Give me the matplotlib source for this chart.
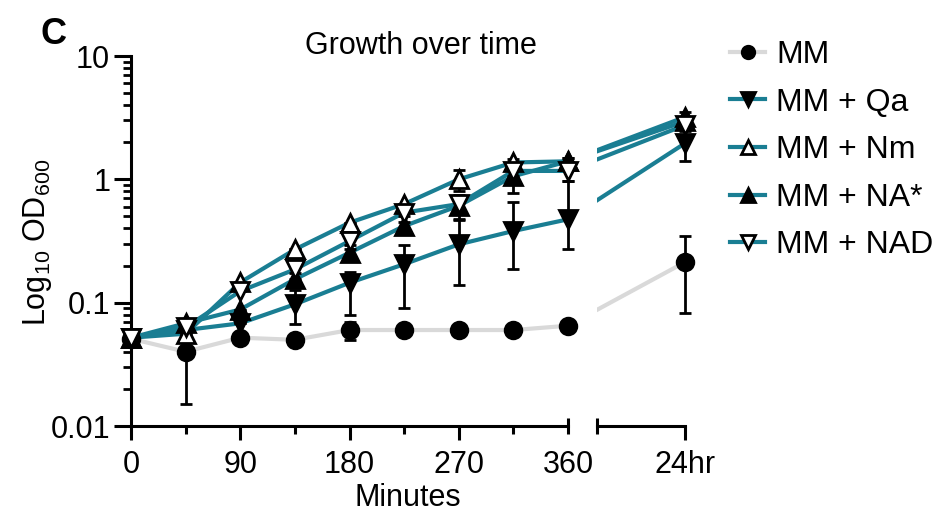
import matplotlib.pyplot as plt
from matplotlib.lines import Line2D
from matplotlib.ticker import LogLocator, NullFormatter

plt.rcParams['font.family'] = ['Liberation Sans', 'DejaVu Sans']
plt.rcParams['mathtext.default'] = 'regular'

# time points (minutes) and the plotting position used for the 24 hr sample
minutes = [0, 45, 90, 135, 180, 225, 270, 315, 360]
pos_24hr = 456
x_all = minutes + [pos_24hr]
major_ticks = [0, 90, 180, 270, 360]
minor_ticks = [45, 135, 225, 315]

# OD600 means (last value = 24 hr) and lower / upper error bar lengths
mm = [0.051, 0.040, 0.052, 0.050, 0.060, 0.060, 0.060, 0.060, 0.065, 0.213]
mm_lo = [0, 0.025, 0, 0, 0.010, 0, 0, 0, 0, 0.130]
mm_hi = [0, 0.025, 0, 0, 0.010, 0, 0, 0, 0, 0.134]

qa = [0.052, 0.060, 0.068, 0.097, 0.145, 0.205, 0.297, 0.381, 0.474, 1.96]
qa_lo = [0, 0, 0, 0.030, 0.065, 0.114, 0.158, 0.195, 0.204, 0.55]
qa_hi = [0, 0, 0, 0.030, 0.032, 0.088, 0.177, 0.274, 0.500, 0.50]

nm = [0.052, 0.056, 0.146, 0.270, 0.445, 0.630, 1.00, 1.37, 1.40, 3.20]
nm_lo = [0, 0, 0, 0, 0, 0, 0.20, 0.10, 0.10, 0.30]
nm_hi = [0, 0, 0, 0, 0, 0, 0.20, 0.10, 0.10, 0.30]

na = [0.052, 0.068, 0.088, 0.155, 0.254, 0.418, 0.610, 1.06, 1.40, 2.95]
na_lo = [0, 0, 0, 0.020, 0.020, 0.030, 0.140, 0.28, 0.10, 0.20]
na_hi = [0, 0, 0, 0.020, 0.020, 0.030, 0.140, 0.28, 0.10, 0.20]

nad = [0.052, 0.063, 0.124, 0.186, 0.316, 0.537, 0.630, 1.17, 1.17, 2.75]
nad_lo = [0, 0, 0, 0.030, 0.020, 0.030, 0.050, 0.10, 0.20, 0.20]
nad_hi = [0, 0, 0, 0.030, 0.020, 0.030, 0.050, 0.10, 0.20, 0.20]

labels = ['MM', 'MM + Qa', 'MM + Nm', 'MM + NA*', 'MM + NAD']

teal = '#1a7e93'
grey = '#d9d9d9'
series = [
    (mm, mm_lo, mm_hi, grey, 'o', 'black', 12),
    (qa, qa_lo, qa_hi, teal, 'v', 'black', 13),
    (nm, nm_lo, nm_hi, teal, '^', 'white', 13),
    (na, na_lo, na_hi, teal, '^', 'black', 13),
    (nad, nad_lo, nad_hi, teal, 'v', 'white', 13),
]

W, H = 932, 518


def rect(x0, y0, x1, y1):
    return [x0 / W, 1 - y1 / H, (x1 - x0) / W, (y1 - y0) / H]


fig = plt.figure(figsize=(W / 100, H / 100), dpi=100)
ax = fig.add_axes(rect(131, 56, 568, 426))
ax2 = fig.add_axes(rect(597, 56, 685, 426))

for a in (ax, ax2):
    a.set_yscale('log')
    a.set_ylim(0.01, 10)
    for s in ('top', 'right'):
        a.spines[s].set_visible(False)
    a.spines['bottom'].set_linewidth(2.2)
    a.spines['left'].set_linewidth(2.2)
    a.patch.set_alpha(0)

ax.set_xlim(0, 360)
ax2.set_xlim(384, pos_24hr)

for ys, lo, hi, lc, m, fc, ms in series:
    ax.plot(x_all, ys, color=lc, lw=3, zorder=2)
    ax2.plot(x_all, ys, color=lc, lw=3, zorder=2)
    ax.errorbar(minutes, ys[:-1], yerr=[lo[:-1], hi[:-1]], fmt='none', ecolor='black',
                elinewidth=2, capsize=4, capthick=2, clip_on=False, zorder=3)
    ax2.errorbar([pos_24hr], ys[-1:], yerr=[lo[-1:], hi[-1:]], fmt='none', ecolor='black',
                 elinewidth=2, capsize=4, capthick=2, clip_on=False, zorder=3)
    ax.plot(minutes, ys[:-1], ls='none', marker=m, ms=ms, mfc=fc, mec='black', mew=2,
            clip_on=False, zorder=4)
    ax2.plot([pos_24hr], ys[-1:], ls='none', marker=m, ms=ms, mfc=fc, mec='black', mew=2,
             clip_on=False, zorder=4)

# y axis
ax.set_yticks([0.01, 0.1, 1, 10])
ax.set_yticklabels(['0.01', '0.1', '1', '10'])
ax.yaxis.set_minor_locator(LogLocator(base=10, subs=range(2, 10)))
ax.yaxis.set_minor_formatter(NullFormatter())
ax.tick_params(axis='y', which='major', length=12, width=2.2, labelsize=22, pad=3)
ax.tick_params(axis='y', which='minor', length=6, width=2)

# x axis
ax.set_xticks(major_ticks)
ax.set_xticks(minor_ticks, minor=True)
ax.set_xticklabels([str(t) for t in major_ticks])
ax.tick_params(axis='x', which='major', length=10, width=2.2, labelsize=22, pad=7)
ax.tick_params(axis='x', which='minor', length=5.5, width=2.2)
ax.xaxis.get_major_ticks()[-1].tick1line.set_visible(False)

ax2.spines['left'].set_visible(False)
ax2.tick_params(axis='y', which='both', left=False, labelleft=False)
ax2.set_xticks([pos_24hr])
ax2.set_xticklabels(['24hr'])
ax2.tick_params(axis='x', which='major', length=10, width=2.2, labelsize=22, pad=7)
ax2.tick_params(axis='x', which='minor', length=0)

# break caps
ax.plot([360], [0.01], marker='|', ms=12, mew=2.2, color='black', clip_on=False, zorder=5)
ax2.plot([384], [0.01], marker='|', ms=12, mew=2.2, color='black', clip_on=False, zorder=5)

fig.text(421 / W, 1 - 46 / H, 'Growth over time', fontsize=22, ha='center', va='center')
fig.text(408 / W, 1 - 498 / H, 'Minutes', fontsize=22, ha='center', va='center')
fig.text(37 / W, 1 - 242 / H, 'Log$_{10}$ OD$_{600}$', fontsize=22, rotation=90,
         ha='center', va='center')
fig.text(40 / W, 1 - 35 / H, 'C', fontsize=26, fontweight='bold', ha='left', va='center')

handles = [Line2D([], [], color=lc, lw=3, marker=m, ms=ms * 0.75, mfc=fc, mec='black', mew=2)
           for _, _, _, lc, m, fc, ms in series]
fig.legend(handles, labels, loc='upper left', bbox_to_anchor=(730 / W, 1 - 40 / H),
           frameon=False, fontsize=23, handlelength=1.1, handletextpad=0.35,
           labelspacing=0.55, borderpad=0, borderaxespad=0)

fig.savefig('out.png', dpi=100)
